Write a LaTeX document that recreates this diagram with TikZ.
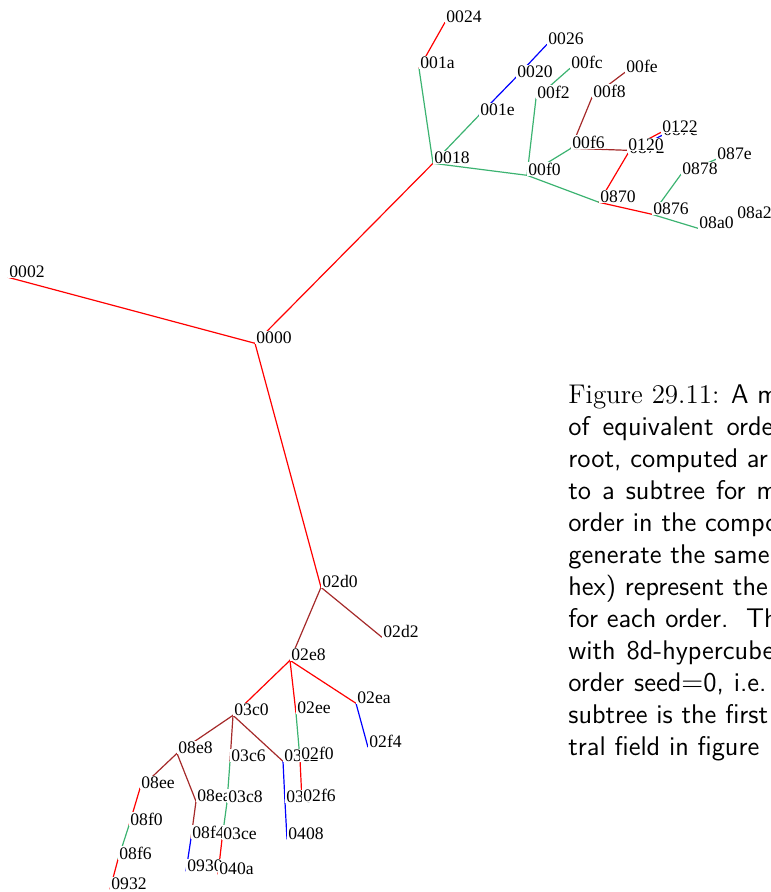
\documentclass[tikz,border=0pt]{standalone}
\usepackage{fontspec}
\newfontfamily\lblfont{Liberation Serif}
\usetikzlibrary{backgrounds}
\definecolor{edgered}{RGB}{255,0,0}
\definecolor{edgeblue}{RGB}{0,0,255}
\definecolor{edgegreen}{RGB}{60,179,113}
\definecolor{edgebrown}{RGB}{165,42,42}
\tikzset{
	hexnode/.style={anchor=mid west, fill=white, inner sep=0.5pt, font=\lblfont\fontsize{8.8}{9}\selectfont},
	rline/.style={draw=edgered, line width=0.6pt},
	bline/.style={draw=edgeblue, line width=0.6pt},
	gline/.style={draw=edgegreen, line width=0.6pt},
	nline/.style={draw=edgebrown, line width=0.6pt},
	capline/.style={anchor=base west, inner sep=0pt, font=\sffamily\fontsize{13.5}{16}\selectfont}
}

\begin{document}
\begin{tikzpicture}[x=0.5pt, y=-0.5pt]
		\useasboundingbox (0,0) rectangle (770,892);
		\clip (0,0) rectangle (770,892);
		
		% upper branch
		\node[hexnode] (n0024) at (445,18) {0024};
		\node[hexnode] (n001a) at (419,64) {001a};
		\node[hexnode] (n0026) at (547,40) {0026};
		\node[hexnode] (n0020) at (516,73) {0020};
		\node[hexnode] (n00fc) at (570,64) {00fc};
		\node[hexnode] (n00fe) at (625,68) {00fe};
		\node[hexnode] (n00f2) at (536,94) {00f2};
		\node[hexnode] (n00f8) at (592,93) {00f8};
		\node[hexnode] (n001e) at (479,111) {001e};
		\node[hexnode] (n087c) at (662,131) {087c};
		\node[hexnode] (n0122) at (661,128) {0122};
		\node[hexnode] (n00f6) at (571,144) {00f6};
		\node[hexnode] (n0872) at (628,149) {0872};
		\node[hexnode] (n0120) at (627,146) {0120};
		\node[hexnode] (n087e) at (716,155) {087e};
		\node[hexnode] (n0018) at (433,159) {0018};
		\node[hexnode] (n00f0) at (527,171) {00f0};
		\node[hexnode] (n0878) at (681,170) {0878};
		\node[hexnode] (n0870) at (599,198) {0870};
		\node[hexnode] (n0876) at (652,210) {0876};
		\node[hexnode] (n08a0) at (698,224) {08a0};
		\node[hexnode] (n08a2) at (736,214) {08a2};
		
		% root
		\node[hexnode] (n0002) at (8,273) {0002};
		\node[hexnode] (n0000) at (255,339) {0000};
		
		% lower branch
		\node[hexnode] (n02d0) at (321,583) {02d0};
		\node[hexnode] (n02d2) at (382,633) {02d2};
		\node[hexnode] (n02e8) at (290,656) {02e8};
		\node[hexnode] (n02ea) at (356,699) {02ea};
		\node[hexnode] (n03c0) at (233,711) {03c0};
		\node[hexnode] (n02ee) at (296,709) {02ee};
		\node[hexnode] (n02f4) at (368,743) {02f4};
		\node[hexnode] (n08e8) at (177,749) {08e8};
		\node[hexnode] (n03c6) at (230,757) {03c6};
		\node[hexnode] (n03c2) at (283,757) {03c2};
		\node[hexnode] (n02f0) at (300,755) {02f0};
		\node[hexnode] (n08ee) at (140,784) {08ee};
		\node[hexnode] (n08ea) at (196,797) {08ea};
		\node[hexnode] (n03c8) at (227,798) {03c8};
		\node[hexnode] (n03c4) at (285,798) {03c4};
		\node[hexnode] (n02f6) at (302,797) {02f6};
		\node[hexnode] (n08f0) at (129,821) {08f0};
		\node[hexnode] (n08f4) at (191,834) {08f4};
		\node[hexnode] (n03ce) at (222,835) {03ce};
		\node[hexnode] (n0408) at (287,835) {0408};
		\node[hexnode] (n08f6) at (118,855) {08f6};
		\node[hexnode] (n0930) at (186,867) {0930};
		\node[hexnode] (n040a) at (218,870) {040a};
		\node[hexnode] (n0932) at (110,885) {0932};
		
		% edges go under the labels
		\begin{scope}[on background layer]
			\draw[rline] (n0000.base west) -- (n0002.base west);
			\draw[rline] (n0000.base west) -- (n0018.base west);
			\draw[rline] (n0000.base west) -- (n02d0.base west);
			
			\draw[gline] (n0018.base west) -- (n001a.base west);
			\draw[rline] (n001a.base west) -- (n0024.base west);
			\draw[gline] (n0018.base west) -- (n001e.base west);
			\draw[bline] (n001e.base west) -- (n0020.base west);
			\draw[bline] (n0020.base west) -- (n0026.base west);
			\draw[gline] (n0018.base west) -- (n00f0.base west);
			\draw[gline] (n00f0.base west) -- (n00f2.base west);
			\draw[gline] (n00f2.base west) -- (n00fc.base west);
			\draw[gline] (n00f0.base west) -- (n00f6.base west);
			\draw[nline] (n00f6.base west) -- (n00f8.base west);
			\draw[nline] (n00f8.base west) -- (n00fe.base west);
			\draw[nline] (n00f6.base west) -- (n0120.base west);
			\draw[rline] (n0120.base west) -- (n0122.base west);
			\draw[gline] (n00f0.base west) -- (n0870.base west);
			\draw[rline] (n0870.base west) -- (n0872.base west);
			\draw[bline] (n0872.base west) -- (n087c.base west);
			\draw[rline] (n0870.base west) -- (n0876.base west);
			\draw[gline] (n0876.base west) -- (n0878.base west);
			\draw[gline] (n0878.base west) -- (n087e.base west);
			\draw[gline] (n0876.base west) -- (n08a0.base west);
			
			\draw[nline] (n02d0.base west) -- (n02d2.base west);
			\draw[nline] (n02d0.base west) -- (n02e8.base west);
			\draw[rline] (n02e8.base west) -- (n03c0.base west);
			\draw[rline] (n02e8.base west) -- (n02ee.base west);
			\draw[rline] (n02e8.base west) -- (n02ea.base west);
			\draw[bline] (n02ea.base west) -- (n02f4.base west);
			\draw[gline] (n02ee.base west) -- (n02f0.base west);
			\draw[rline] (n02f0.base west) -- (n02f6.base west);
			\draw[nline] (n03c0.base west) -- (n08e8.base west);
			\draw[nline] (n03c0.base west) -- (n03c6.base west);
			\draw[nline] (n03c0.base west) -- (n03c2.base west);
			\draw[bline] (n03c2.base west) -- (n03c4.base west);
			\draw[bline] (n03c4.base west) -- (n0408.base west);
			\draw[gline] (n03c6.base west) -- (n03c8.base west);
			\draw[gline] (n03c8.base west) -- (n03ce.base west);
			\draw[rline] (n03ce.base west) -- (n040a.base west);
			\draw[nline] (n08e8.base west) -- (n08ee.base west);
			\draw[nline] (n08e8.base west) -- (n08ea.base west);
			\draw[nline] (n08ea.base west) -- (n08f4.base west);
			\draw[bline] (n08f4.base west) -- (n0930.base west);
			\draw[rline] (n08ee.base west) -- (n08f0.base west);
			\draw[gline] (n08f0.base west) -- (n08f6.base west);
			\draw[rline] (n08f6.base west) -- (n0932.base west);
		\end{scope}
		
		% caption, cut off at the right edge
		\node[capline] (cap1) at (568,403) {{\rmfamily Figure 29.11:} A m};
		\node[capline] (cap2) at (568,435) {\spaceskip=6.5pt\relax of equivalent orde};
		\node[capline] (cap3) at (568,467) {root, computed ar};
		\node[capline] (cap4) at (568,499) {\spaceskip=5.5pt\relax to a subtree for m};
		\node[capline] (cap5) at (568,531) {order in the compo};
		\node[capline] (cap6) at (568,563) {generate the same};
		\node[capline] (cap7) at (568,595) {hex) represent the};
		\node[capline] (cap8) at (568,627) {for each order.\ \ Th};
		\node[capline] (cap9) at (568,659) {\spaceskip=5.5pt\relax with 8d-hypercube};
		\node[capline] (cap10) at (568,691) {order\hspace{5pt}seed$=$0,\hspace{5pt}i.e.};
		\node[capline] (cap11) at (568,723) {subtree is the first};
		\node[capline] (cap12) at (568,755) {tral field in figure};
		
	\end{tikzpicture}
\end{document}
